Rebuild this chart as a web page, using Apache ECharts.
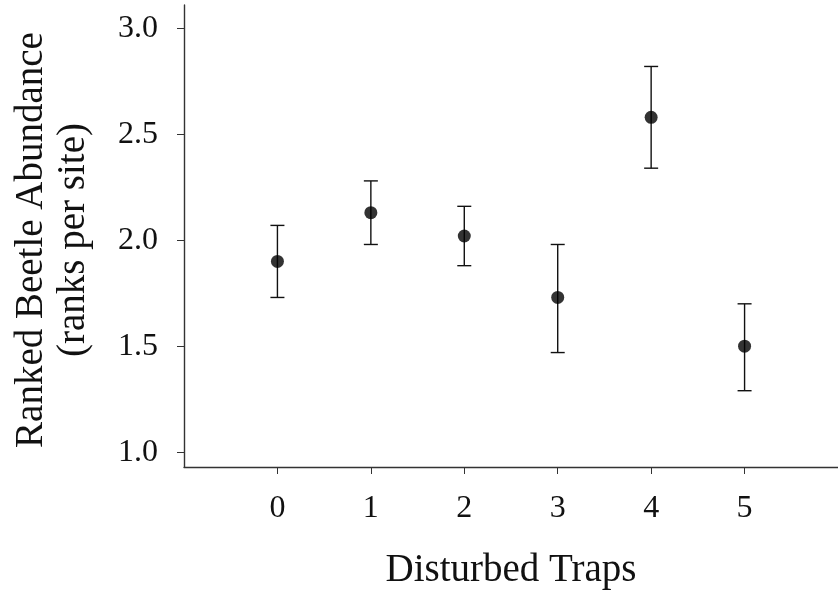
<!DOCTYPE html>
<html><head><meta charset="utf-8">
<script src="https://cdn.jsdelivr.net/npm/echarts@6/dist/echarts.min.js"></script>
<style>html,body{margin:0;padding:0;background:#fff}#c{width:838px;height:595px}</style>
</head><body><div id="c"></div>
<script>
const traps = [0, 1, 2, 3, 4, 5];
const means = [1.90, 2.13, 2.02, 1.73, 2.58, 1.50];
const upper = [2.07, 2.28, 2.16, 1.98, 2.82, 1.70];
const lower = [1.73, 1.98, 1.88, 1.47, 2.34, 1.29];
const yTicks = [1.0, 1.5, 2.0, 2.5, 3.0];
const xTicks = [0, 1, 2, 3, 4, 5];

const font = 'Liberation Serif';
const chart = echarts.init(document.getElementById('c'));
chart.setOption({
  animation: false,
  grid: {left: 184, right: 0, top: 5, bottom: 127},
  xAxis: {
    type: 'value', min: -1, max: 6, interval: 1,
    axisLine: {onZero: false, lineStyle: {color: '#333', width: 1.4}},
    axisTick: {show: true, length: 7, lineStyle: {color: '#333'}, customValues: xTicks},
    axisLabel: {fontFamily: font, fontSize: 32, color: '#111', margin: 26, customValues: xTicks},
    splitLine: {show: false},
    name: 'Disturbed Traps', nameLocation: 'middle', nameGap: 84,
    nameTextStyle: {fontFamily: font, fontSize: 39, color: '#111'}
  },
  yAxis: {
    type: 'value', min: 0.93, max: 3.11,
    axisLine: {show: true, onZero: false, lineStyle: {color: '#333', width: 1.4}},
    axisTick: {show: true, length: 7, lineStyle: {color: '#333'}, customValues: yTicks},
    axisLabel: {fontFamily: font, fontSize: 32, color: '#111', margin: 26, customValues: yTicks,
      formatter: v => v.toFixed(1)},
    splitLine: {show: false}
  },
  graphic: [
    {type: 'text', x: 32, y: 240, rotation: Math.PI / 2,
      style: {text: 'Ranked Beetle Abundance', fontFamily: font, fontSize: 39, fill: '#111',
        textAlign: 'center', textVerticalAlign: 'middle'}},
    {type: 'text', x: 74, y: 240, rotation: Math.PI / 2,
      style: {text: '(ranks per site)', fontFamily: font, fontSize: 39, fill: '#111',
        textAlign: 'center', textVerticalAlign: 'middle'}}
  ],
  series: [
    {
      type: 'custom',
      data: traps.map((t, i) => [t, lower[i], upper[i]]),
      renderItem: function (params, api) {
        const x = api.value(0);
        const lo = api.coord([x, api.value(1)]);
        const hi = api.coord([x, api.value(2)]);
        const hw = 7;
        const st = {stroke: '#111', lineWidth: 1.4};
        return {type: 'group', children: [
          {type: 'line', shape: {x1: lo[0], y1: lo[1], x2: hi[0], y2: hi[1]}, style: st},
          {type: 'line', shape: {x1: lo[0] - hw, y1: lo[1], x2: lo[0] + hw, y2: lo[1]}, style: st},
          {type: 'line', shape: {x1: hi[0] - hw, y1: hi[1], x2: hi[0] + hw, y2: hi[1]}, style: st}
        ]};
      },
      z: 2
    },
    {
      type: 'scatter',
      data: traps.map((t, i) => [t, means[i]]),
      symbol: 'circle', symbolSize: 13,
      itemStyle: {color: '#000'},
      z: 3
    }
  ]
});
</script></body></html>
